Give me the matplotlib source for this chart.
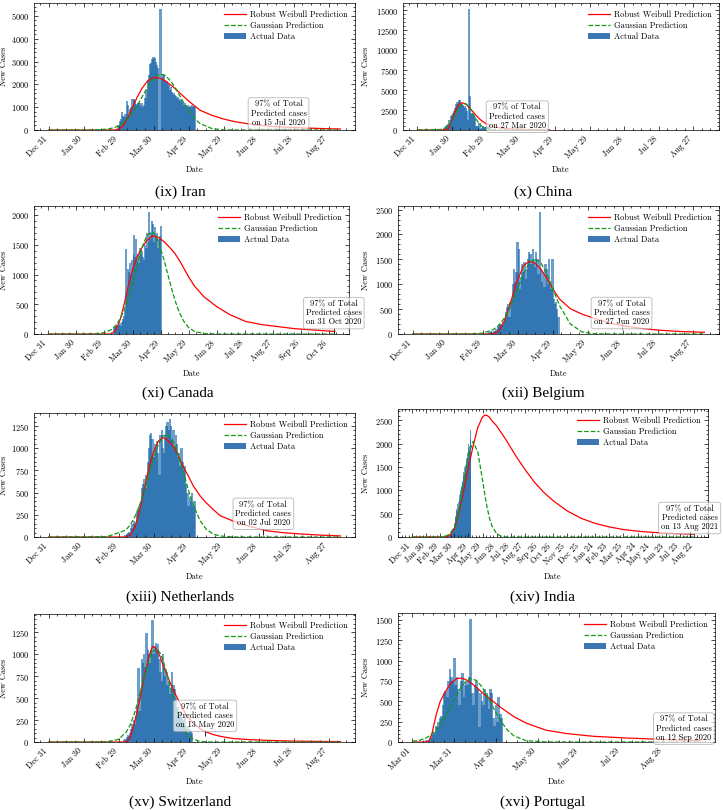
import matplotlib
matplotlib.use("Agg")
import matplotlib.pyplot as plt
import matplotlib.dates as mdates
from matplotlib.ticker import AutoMinorLocator, MaxNLocator
from matplotlib.transforms import blended_transform_factory
from matplotlib.lines import Line2D
from matplotlib.patches import Patch
import pandas as pd

# ====================== DATA ======================
# --- (ix) Iran ---
IRAN_BAR_START = "2020-02-29"
IRAN_CASES = [200, 400, 500, 800, 600, 550, 700, 1250, 1100, 600,
              900, 1000, 1350, 1350, 1300, 1150, 1100, 1200, 1200, 1050,
              1200, 1000, 1100, 1400, 1750, 2200, 2400, 2900, 2950, 3100,
              3200, 3150, 3000, 2850, 2700, 0, 5300, 2300, 2450, 2400,
              2200, 2150, 2050, 1950, 1750, 1900, 1650, 1600, 1550, 1500,
              1400, 1450, 1300, 1350, 1250, 1200, 1100, 1200, 1050, 1100,
              1000, 1050, 1000, 1100, 1000, 1050]
IRAN_ORIGIN = "2019-12-31"
IRAN_DAYS = [0, 40, 50, 56, 60, 64, 68, 72, 76, 80, 84, 88, 92, 96, 100, 105, 110, 115,
             120, 125, 130, 140, 150, 160, 175, 190, 205, 220, 235, 250]
IRAN_WEIBULL = [0, 0, 0, 0, 30, 200, 560, 1000, 1450, 1820, 2100, 2260, 2300, 2260, 2150,
                1960, 1740, 1500, 1270, 1060, 860, 640, 480, 360, 240, 165, 120, 88, 62, 42]
IRAN_GAUSS = [0, 5, 36, 100, 182, 312, 502, 759, 1078, 1439, 1806, 2128, 2355, 2450, 2392,
              2127, 1716, 1256, 834, 502, 274, 61, 9, 1, 0, 0, 0, 0, 0, 0]
IRAN_P97 = ("2020-07-15", 130)

# --- (x) China ---
CHINA_BAR_START = "2020-01-23"
CHINA_CASES = [100, 250, 450, 650, 800, 1300, 1700, 1900, 2100,
               2400, 2800, 3200, 3500, 3800, 3700, 3400, 3300, 3100, 3000,
               2700, 2400, 1200, 15150, 4200, 2100, 2000, 1800, 1600, 500,
               450, 450, 900, 100, 250, 450, 400, 400, 330,
               420, 550, 200, 130, 120, 140]
CHINA_ORIGIN = "2019-12-31"
CHINA_DAYS = [0, 20, 24, 27, 30, 33, 36, 39, 42, 45, 48, 51, 54, 57, 60, 65, 70, 80, 90, 100, 115]
CHINA_WEIBULL = [0, 0, 0, 150, 1200, 2400, 3200, 3420, 3250, 2850, 2350, 1850, 1400, 1050,
                 780, 480, 310, 150, 80, 45, 20]
CHINA_GAUSS = [0, 66, 257, 587, 1142, 1896, 2683, 3233, 3320, 2905, 2167, 1377, 746, 344,
               135, 20, 2, 0, 0, 0, 0]
CHINA_P97 = ("2020-03-27", 80)

# --- (xi) Canada ---
CANADA_BAR_START = "2020-03-10"
CANADA_CASES = [100, 120, 130, 150, 140, 160, 150, 180, 130, 200,
                250, 300, 400, 1430, 700, 1100, 1050, 1200, 1000, 1250,
                1100, 1350, 1670, 1300, 1600, 1250, 1350, 1200, 1450, 1350,
                1400, 1300, 1250, 1500, 1450, 1700, 1450, 1550, 2050, 1600,
                1700, 1900, 1850, 1550, 1800, 1650, 1700, 1450, 1600, 1650, 1820]
CANADA_ORIGIN = "2019-12-31"
CANADA_DAYS = [0, 40, 50, 60, 67, 72, 77, 81, 86, 90, 95, 100, 105, 110, 113, 118, 124, 130,
               135, 140, 145, 150, 156, 166, 180, 194, 211, 229, 263, 306]
CANADA_WEIBULL = [0, 0, 0, 0, 0, 60, 250, 500, 850, 1080, 1300, 1450, 1570, 1640, 1650, 1620,
                  1550, 1450, 1360, 1240, 1100, 960, 810, 630, 460, 325, 210, 156, 90, 42]
CANADA_GAUSS = [0, 0, 3, 23, 70, 141, 261, 401, 635, 863, 1165, 1446, 1647, 1720, 1693, 1540,
                1226, 863, 583, 362, 206, 108, 44, 8, 0, 0, 0, 0, 0, 0]
CANADA_P97 = ("2020-10-31", 45)

# --- (xii) Belgium ---
BELGIUM_BAR_START = "2020-03-01"
BELGIUM_CASES = [0, 5, 5, 10, 20, 50, 60, 30, 40, 70,
                 60, 100, 150, 200, 180, 200, 190, 250, 300, 450,
                 550, 600, 350, 650, 700, 1000, 1300, 1050, 1250, 1850, 1700,
                 900, 1150, 1400, 1250, 1450, 1100, 1300, 1500, 1650, 1600,
                 1400, 1700, 1500, 1350, 1650, 1500, 1200, 2450, 1300, 1050,
                 1250, 950, 1400, 1300, 1000, 1500, 1050, 900, 1500, 700,
                 600, 650, 500, 350]
BELGIUM_ORIGIN = "2019-12-31"
BELGIUM_DAYS = [0, 50, 60, 69, 74, 78, 83, 89, 95, 100, 105, 110, 115, 120, 126, 135, 145,
                155, 170, 183, 197, 212, 230, 250]
BELGIUM_WEIBULL = [0, 0, 0, 0, 60, 230, 560, 1030, 1370, 1460, 1420, 1300, 1120, 910, 700,
                   510, 400, 320, 210, 155, 110, 75, 50, 34]
BELGIUM_GAUSS = [0, 2, 17, 85, 178, 299, 515, 855, 1209, 1428, 1510, 1428, 1209, 916, 567,
                 204, 43, 6, 0, 0, 0, 0, 0, 0]
BELGIUM_P97 = ("2020-06-27", 170)

# --- (xiii) Netherlands ---
NETH_BAR_START = "2020-03-06"
NETH_CASES = [20, 30, 50, 60, 40, 100, 150, 180, 150, 170,
              280, 300, 350, 400, 550, 600, 650, 550, 700, 850,
              1000, 1150, 1170, 1100, 900, 1050, 1000, 1080, 950, 700,
              1150, 1200, 1000, 950, 1150, 1250, 1300, 1200, 1330, 1250,
              1100, 1200, 1000, 1150, 1050, 900, 950, 800, 1000, 850,
              750, 800, 600, 500, 350, 450, 400, 500, 350, 400]
NETH_ORIGIN = "2019-12-31"
NETH_DAYS = [0, 50, 66, 70, 74, 78, 82, 86, 90, 94, 98, 102, 107, 111, 115, 120, 124, 130,
             135, 141, 147, 158, 172, 187, 200, 215, 232, 250]
NETH_WEIBULL = [0, 0, 0, 20, 110, 300, 540, 780, 960, 1080, 1120, 1090, 1020, 920, 800, 680,
                575, 460, 385, 310, 240, 180, 120, 70, 50, 35, 22, 12]
NETH_GAUSS = [0, 4, 76, 137, 230, 358, 520, 704, 886, 1040, 1137, 1157, 1071, 929, 750, 520,
              358, 179, 89, 33, 11, 1, 0, 0, 0, 0, 0, 0]
NETH_P97 = ("2020-07-02", 60)

# --- (xiv) India ---
INDIA_BAR_START = "2020-03-15"
INDIA_CASES = [10, 15, 20, 25, 30, 50, 60, 70, 80, 90,
               100, 120, 150, 180, 200, 250, 300, 400, 450, 550,
               600, 550, 700, 650, 750, 800, 900, 850, 950, 1000,
               1050, 1100, 1200, 1150, 1300, 1400, 1350, 1500, 1450, 1550,
               1600, 1700, 1650, 1800, 1750, 1900, 2000, 1850, 1950, 2300, 2100]
INDIA_ORIGIN = "2019-12-31"
INDIA_DAYS = [0, 60, 70, 80, 90, 100, 110, 120, 130, 140, 150, 155, 160, 165, 170, 180, 190,
              200, 220, 240, 260, 280, 300, 330, 360, 390, 420, 450, 480, 510, 540, 570, 600]
INDIA_WEIBULL = [0, 0, 0, 30, 180, 520, 1000, 1500, 1950, 2350, 2570, 2610, 2600, 2560, 2490,
                 2380, 2230, 2080, 1750, 1450, 1180, 960, 780, 560, 400, 290, 215, 160, 125,
                 100, 82, 70, 60]
INDIA_GAUSS = [0, 2, 13, 59, 210, 560, 1139, 1754, 2049, 1815, 1218, 899, 619, 398, 239, 70,
               15, 3, 0, 0, 0, 0, 0, 0, 0, 0, 0, 0, 0, 0, 0, 0, 0]
INDIA_P97 = ("2021-08-13", 62)

# --- (xv) Switzerland ---
SWISS_BAR_START = "2020-03-05"
SWISS_CASES = [20, 30, 60, 80, 70, 100, 150, 200, 250, 200,
               300, 400, 840, 350, 600, 950, 900, 1000, 850, 1240,
               1050, 1000, 900, 1050, 1390, 1000, 1100, 1130, 1050, 1120,
               950, 800, 700, 1000, 850, 750, 800, 650, 700, 550,
               600, 800, 650, 600, 500, 350, 400, 300, 350, 280,
               250, 200, 300, 150, 180, 100, 150, 120, 100]
SWISS_ORIGIN = "2019-12-31"
SWISS_DAYS = [0, 50, 60, 67, 70, 74, 78, 82, 86, 89, 92, 95, 98, 101, 104, 107, 110, 113,
              118, 124, 130, 135, 141, 147, 158, 172, 187, 210, 250]
SWISS_WEIBULL = [0, 0, 0, 0, 60, 240, 476, 750, 980, 1090, 1070, 990, 880, 780, 680, 590,
                 510, 430, 305, 210, 150, 114, 85, 65, 40, 27, 19, 10, 4]
SWISS_GAUSS = [0, 2, 30, 121, 197, 344, 537, 749, 935, 1027, 1060, 1027, 935, 800, 643, 485,
               344, 229, 101, 30, 7, 2, 0, 0, 0, 0, 0, 0, 0]
SWISS_P97 = ("2020-05-13", 105)

# --- (xvi) Portugal ---
PORT_BAR_START = "2020-03-10"
PORT_CASES = [5, 20, 15, 30, 50, 80, 100, 120, 200, 190,
              250, 300, 320, 450, 600, 630, 550, 750, 900, 800,
              750, 1030,
              700, 800, 650, 450, 750, 850, 550, 700, 750, 700,
              800, 1510, 600, 450, 700, 750, 650, 180, 600, 500,
              450, 650, 600, 550, 400, 650, 600, 300, 200, 450,
              250, 550, 350, 300]
PORT_ORIGIN = "2020-03-01"
PORT_DAYS = [0, 5, 10, 12, 14, 17, 20, 24, 28, 32, 35, 38, 42, 46, 50, 54, 58, 63, 68, 73,
             82, 96, 111, 130, 154, 178, 207]
PORT_WEIBULL = [0, 0, 0, 10, 100, 330, 500, 630, 730, 780, 785, 770, 730, 670, 610, 550, 500,
                430, 370, 310, 230, 145, 103, 70, 49, 33, 16]
PORT_GAUSS = [8, 21, 52, 72, 97, 147, 212, 323, 453, 586, 673, 739, 779, 757, 678, 560, 426,
              270, 150, 74, 15, 1, 0, 0, 0, 0, 0]
PORT_P97 = ("2020-09-12", 25)

TITLES = ["(ix) Iran", "(x) China", "(xi) Canada", "(xii) Belgium",
          "(xiii) Netherlands", "(xiv) India", "(xv) Switzerland", "(xvi) Portugal"]
LEGEND_LABELS = ["Robust Weibull Prediction", "Gaussian Prediction", "Actual Data"]

SERIES = [
    (IRAN_BAR_START, IRAN_CASES, IRAN_ORIGIN, IRAN_DAYS, IRAN_WEIBULL, IRAN_GAUSS, IRAN_P97),
    (CHINA_BAR_START, CHINA_CASES, CHINA_ORIGIN, CHINA_DAYS, CHINA_WEIBULL, CHINA_GAUSS, CHINA_P97),
    (CANADA_BAR_START, CANADA_CASES, CANADA_ORIGIN, CANADA_DAYS, CANADA_WEIBULL, CANADA_GAUSS, CANADA_P97),
    (BELGIUM_BAR_START, BELGIUM_CASES, BELGIUM_ORIGIN, BELGIUM_DAYS, BELGIUM_WEIBULL, BELGIUM_GAUSS, BELGIUM_P97),
    (NETH_BAR_START, NETH_CASES, NETH_ORIGIN, NETH_DAYS, NETH_WEIBULL, NETH_GAUSS, NETH_P97),
    (INDIA_BAR_START, INDIA_CASES, INDIA_ORIGIN, INDIA_DAYS, INDIA_WEIBULL, INDIA_GAUSS, INDIA_P97),
    (SWISS_BAR_START, SWISS_CASES, SWISS_ORIGIN, SWISS_DAYS, SWISS_WEIBULL, SWISS_GAUSS, SWISS_P97),
    (PORT_BAR_START, PORT_CASES, PORT_ORIGIN, PORT_DAYS, PORT_WEIBULL, PORT_GAUSS, PORT_P97),
]

# ====================== LAYOUT (pixels) ======================
FIG_W, FIG_H = 723, 810
LAYOUT = [
    dict(box=(34, 3, 355, 130), span=250, ann_y=0.13, ylab_x=8, title_xy=(180, 192)),
    dict(box=(403, 3, 719, 130), span=250, ann_y=0.105, ylab_x=370, title_xy=(543, 192)),
    dict(box=(34, 206, 349, 334), span=306, ann_y=0.163, ylab_x=8, title_xy=(178, 393)),
    dict(box=(398, 206, 719, 334), span=250, ann_y=0.164, ylab_x=370, title_xy=(543, 393)),
    dict(box=(34, 413, 355, 537), span=250, ann_y=0.187, ylab_x=8, title_xy=(180, 597)),
    dict(box=(398, 409, 708, 537), span=600, ann_y=0.148, ylab_x=370, title_xy=(543, 597)),
    dict(box=(34, 614, 355, 742), span=250, ann_y=0.204, ylab_x=8, title_xy=(180, 802)),
    dict(box=(398, 613, 715, 742), span=207, ann_y=0.104, ylab_x=370, title_xy=(543, 802)),
]

BAR_COLOR = "#0C5DA5"
BAR_LEGEND_COLOR = "#3d77b3"
RED = "#ff0000"
GREEN = "#119911"

plt.rcParams.update({
    "font.family": ["cmr10"],
    "mathtext.fontset": "cm",
    "axes.formatter.use_mathtext": True,
    "axes.unicode_minus": False,
    "font.size": 6,
    "axes.linewidth": 0.5,
    "xtick.direction": "in", "ytick.direction": "in",
    "xtick.top": True, "ytick.right": True,
    "xtick.major.size": 3, "ytick.major.size": 3,
    "xtick.minor.size": 1.5, "ytick.minor.size": 1.5,
    "xtick.major.width": 0.5, "ytick.major.width": 0.5,
    "xtick.minor.width": 0.5, "ytick.minor.width": 0.5,
    "xtick.labelsize": 6, "ytick.labelsize": 6,
})

fig = plt.figure(figsize=(FIG_W / 100, FIG_H / 100), dpi=100)

for series, lay, title in zip(SERIES, LAYOUT, TITLES):
    bar_start, cases, origin, days, weib, gauss, p97 = series
    x0, yt, x1, yb = lay["box"]
    ax = fig.add_axes([x0 / FIG_W, 1 - yb / FIG_H, (x1 - x0) / FIG_W, (yb - yt) / FIG_H])

    origin = pd.Timestamp(origin)
    bar_dates = pd.date_range(bar_start, periods=len(cases), freq="D").to_pydatetime()
    curve_dates = (origin + pd.to_timedelta(days, unit="D")).to_pydatetime()

    ax.bar(bar_dates, cases, width=2.0, color=BAR_COLOR, alpha=0.6, linewidth=0)
    ax.plot(curve_dates, weib, color=RED, lw=0.9)
    ax.plot(curve_dates, gauss, color=GREEN, lw=0.9, ls="--")

    span = lay["span"]
    ax.set_xlim(origin - pd.Timedelta(days=0.05 * span), origin + pd.Timedelta(days=1.05 * span))
    ticks = [origin + pd.Timedelta(days=30 * k) for k in range(span // 30 + 1)]
    ax.set_xticks([t.to_pydatetime() for t in ticks],
                  labels=[t.strftime("%b %d") for t in ticks], rotation=45, ha="right")
    ax.xaxis.set_minor_locator(AutoMinorLocator(4))
    ax.yaxis.set_major_locator(MaxNLocator(nbins=7, steps=[1, 2.5, 5, 10]))
    ax.yaxis.set_minor_locator(AutoMinorLocator())
    ax.set_ylim(bottom=0)

    p_date = pd.Timestamp(p97[0])
    ax.plot([p_date.to_pydatetime()], [p97[1]], marker="|", color="black", ms=5, mew=0.6)
    trans = blended_transform_factory(ax.transData, ax.transAxes)
    ax.text(mdates.date2num(p_date.to_pydatetime()), lay["ann_y"],
            "97% of Total\nPredicted cases\non " + p_date.strftime("%d %b %Y"),
            transform=trans, ha="center", va="center", multialignment="center",
            fontsize=6, linespacing=1.1, zorder=5,
            bbox=dict(boxstyle="round,pad=0.3", fc="white", ec="#999999", lw=0.6, alpha=0.7))

    handles = [Line2D([], [], color=RED, lw=0.9),
               Line2D([], [], color=GREEN, lw=0.9, ls="--"),
               Patch(facecolor=BAR_LEGEND_COLOR, edgecolor="none")]
    ax.legend(handles, LEGEND_LABELS, loc="upper right", frameon=False, fontsize=6,
              handlelength=2.6, handletextpad=0.5, labelspacing=0.3)

    ax.set_xlabel("Date", fontsize=6)
    ax.set_ylabel("New Cases", fontsize=6)
    ax.yaxis.set_label_coords((lay["ylab_x"] - x0) / (x1 - x0), 0.5)

    tx, ty = lay["title_xy"]
    fig.text(tx / FIG_W, 1 - ty / FIG_H, title, ha="center", va="center",
             fontsize=11, family="Liberation Serif")

fig.savefig("out.png", dpi=100)
